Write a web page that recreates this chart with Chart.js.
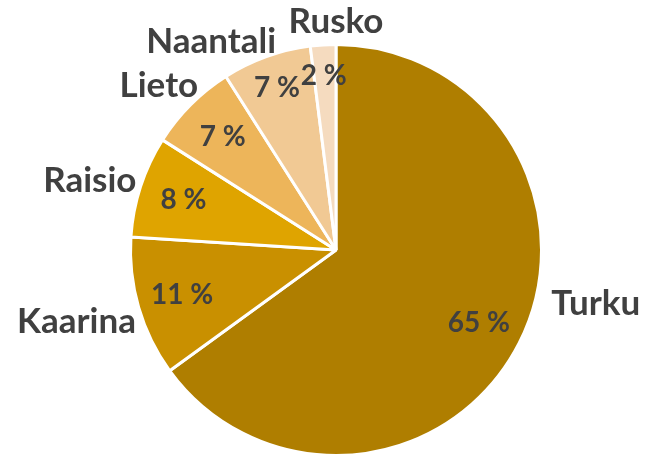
<!DOCTYPE html>
<html>
<head>
<meta charset="utf-8">
<script src="https://cdn.jsdelivr.net/npm/chart.js@4"></script>
<style>
  html, body { margin: 0; padding: 0; background: #fff; overflow: hidden; }
  canvas { display: block; }
</style>
</head>
<body>
<canvas id="pieChart" width="646" height="460"></canvas>
<script>
  const categories = ["Turku", "Kaarina", "Raisio", "Lieto", "Naantali", "Rusko"];
  const shares = [65, 11, 8, 7, 7, 2];
  const colors = ["#AF7E00", "#C99000", "#DFA400", "#EDB55A", "#F1C994", "#F5DBBF"];

  // where the labels sit, as (angle in degrees from top, radius factor)
  const outerPos = [[101.6, 1.29], [254.6, 1.31], [285.8, 1.245], [312.8, 1.175], [329, 1.18], [0, 1.11]];
  const innerPos = [null, null, null, null, [340, 0.84], [356, 0.85]];

  const labelPlugin = {
    id: "pieLabels",
    afterDatasetsDraw(chart) {
      const ctx = chart.ctx;
      const meta = chart.getDatasetMeta(0);
      ctx.save();
      ctx.fillStyle = "#404040";
      ctx.textAlign = "center";
      ctx.textBaseline = "middle";
      meta.data.forEach((arc, i) => {
        const cx = arc.x, cy = arc.y, r = arc.outerRadius;
        // percent
        let a = (arc.startAngle + arc.endAngle) / 2;
        let f = 0.78;
        if (innerPos[i]) {
          a = innerPos[i][0] * Math.PI / 180 - Math.PI / 2;
          f = innerPos[i][1];
        }
        ctx.font = "bold 28px Lato";
        ctx.fillText(shares[i] + " %", cx + Math.cos(a) * r * f, cy + Math.sin(a) * r * f);
        // category
        const oa = outerPos[i][0] * Math.PI / 180 - Math.PI / 2;
        const of = outerPos[i][1];
        ctx.font = "bold 35px Lato";
        ctx.fillText(categories[i], cx + Math.cos(oa) * r * of, cy + Math.sin(oa) * r * of);
      });
      ctx.restore();
    }
  };

  const ctx = document.getElementById("pieChart").getContext("2d");
  const myChart = new Chart(ctx, {
    type: "pie",
    data: {
      labels: categories,
      datasets: [{
        data: shares,
        backgroundColor: colors,
        borderColor: "#ffffff",
        borderWidth: 3
      }]
    },
    options: {
      responsive: false,
      animation: false,
      layout: {
        padding: { left: 129, right: 103, top: 43, bottom: 3 }
      },
      plugins: {
        legend: { display: false },
        tooltip: { enabled: false }
      }
    },
    plugins: [labelPlugin]
  });
</script>
</body>
</html>
